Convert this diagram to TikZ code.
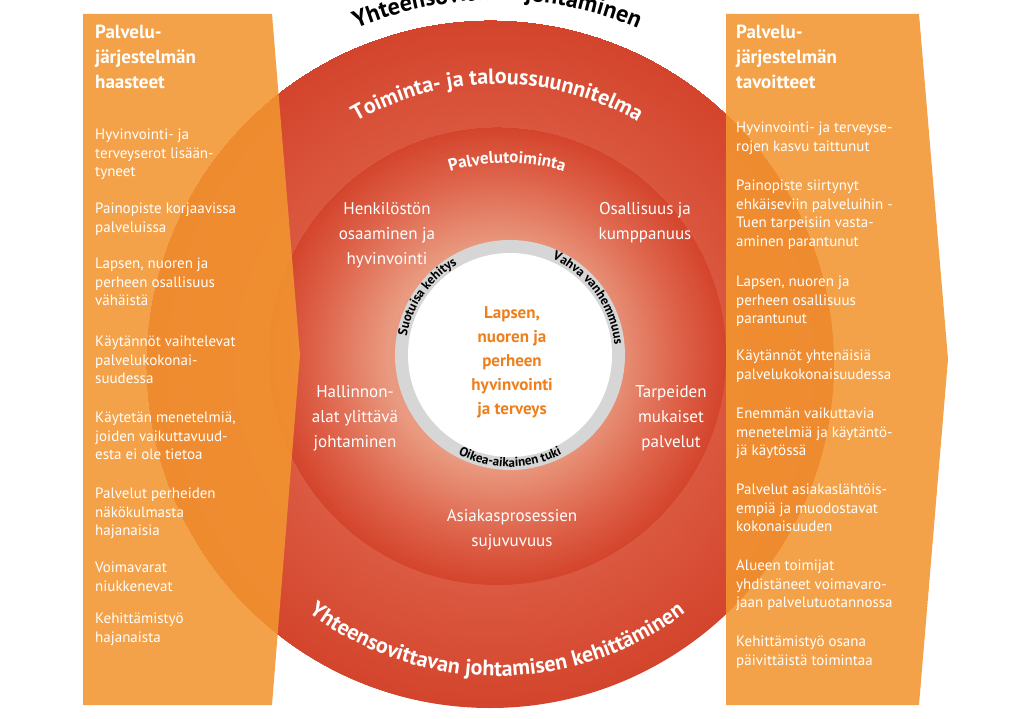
\documentclass[tikz,border=0pt]{standalone}
\usepackage{fontspec}
\setmainfont{PT Sans}
\usetikzlibrary{decorations.text}
\definecolor{panelorange}{HTML}{F39530}
\definecolor{reddark}{HTML}{D4442C}
\definecolor{redmid}{HTML}{DD6148}
\definecolor{redlight}{HTML}{E99A80}
\definecolor{ringgrey}{HTML}{D6D6D6}
\definecolor{centreorange}{HTML}{EE7F1A}
\pgfdeclareradialshading{outerred}{\pgfpoint{0bp}{0bp}}{color(0bp)=(redlight); color(13bp)=(redmid); color(25bp)=(reddark)}
\pgfdeclareradialshading{innerred}{\pgfpoint{0bp}{0bp}}{color(0bp)=(redlight); color(12bp)=(redlight); color(20bp)=(redmid); color(25bp)=(reddark)}

\begin{document}
\begin{tikzpicture}[x=1pt, y=1pt,
                    panel/.style = {fill = panelorange, opacity = 0.88},
                    head/.style = {anchor = north west, inner sep = 0pt, align = left, text = white,
                                   font = \fontsize{19}{25}\selectfont\bfseries},
                    item/.style = {anchor = north west, inner sep = 0pt, align = left, text = white,
                                   font = \fontsize{15}{18.5}\selectfont},
                    area/.style = {align = center, inner sep = 0pt, text = white,
                                   font = \fontsize{17}{25}\selectfont},
                    arctext/.style = {decorate, decoration = {text along path, text align = center,
                                   text = {#1}}}]
  \useasboundingbox (0,0) rectangle (1024,718);
  \begin{scope}
  \clip (0,0) rectangle (1024,718);
  % circles
  \shade[shading = outerred] (490,354) circle (344);
  \shade[shading = innerred] (497,362) circle (229);
  \fill[ringgrey] (510,363) circle (115);
  \fill[white] (510,363) circle (102);

  % texts on the arcs
  \path[arctext = {|\fontsize{24}{24}\selectfont\bfseries|Yhteensovittava johtaminen}]
    (497,354) ++(155:364) arc[start angle = 155, end angle = 25, radius = 364];
  \path[arctext = {|\fontsize{22}{22}\selectfont\bfseries\color{white}|Toiminta- ja taloussuunnitelma}]
    (497,354) ++(150:280) arc[start angle = 150, end angle = 30, radius = 280];
  \path[arctext = {|\fontsize{17}{17}\selectfont\bfseries\color{white}|Palvelutoiminta}]
    (507,362) ++(130:193) arc[start angle = 130, end angle = 50, radius = 193];
  \path[arctext = {|\fontsize{22}{22}\selectfont\bfseries\color{white}|Yhteensovittavan johtamisen kehittäminen}]
    (497,354) ++(205:312) arc[start angle = 205, end angle = 335, radius = 312];
  \path[arctext = {|\fontsize{13}{13}\selectfont\bfseries|Suotuisa kehitys}]
    (510,363) ++(192:105) arc[start angle = 192, end angle = 98, radius = 105];
  \path[arctext = {|\fontsize{13}{13}\selectfont\bfseries|Vahva vanhemmuus}]
    (510,363) ++(86:105) arc[start angle = 86, end angle = -14, radius = 105];
  \path[arctext = {|\fontsize{13}{13}\selectfont\bfseries|Oikea-aikainen tuki}]
    (510,363) ++(218:112) arc[start angle = 218, end angle = 322, radius = 112];

  % areas of the service
  \node[area] (staff) at (387,483) {Henkilöstön\\osaaminen ja\\hyvinvointi};
  \node[area] (partner) at (645,495) {Osallisuus ja\\kumppanuus};
  \node[area] (admin) at (355,300) {Hallinnon-\\alat ylittävä\\johtaminen};
  \node[area] (needs) at (671,300) {Tarpeiden\\mukaiset\\palvelut};
  \node[area] (process) at (512,188) {Asiakasprosessien\\sujuvuvuus};
  \node[align = center, inner sep = 0pt, text = centreorange,
        font = \fontsize{17}{24}\selectfont\bfseries] (centre) at (512,356)
        {Lapsen,\\nuoren ja\\perheen\\hyvinvointi\\ja terveys};

  % panels
  \fill[panel] (83,704) -- (272,704) -- (300,363) -- (272,13) -- (83,13) -- cycle;
  \fill[panel] (726,704) -- (919,704) -- (948,359) -- (919,13) -- (726,13) -- cycle;
  \end{scope}

  \node[head] (lefthead) at (95,693) {Palvelu-\\järjestelmän\\haasteet};
  \node[item] (l1) at (95,589) {Hyvinvointi- ja\\terveyserot lisään-\\tyneet};
  \node[item] (l2) at (95,515) {Painopiste korjaavissa\\palveluissa};
  \node[item] (l3) at (95,460) {Lapsen, nuoren ja\\perheen osallisuus\\vähäistä};
  \node[item] (l4) at (95,382) {Käytännöt vaihtelevat\\palvelukokonai-\\suudessa};
  \node[item] (l5) at (95,306) {Käytetän menetelmiä,\\joiden vaikuttavuud-\\esta ei ole tietoa};
  \node[item] (l6) at (95,230) {Palvelut perheiden\\näkökulmasta\\hajanaisia};
  \node[item] (l7) at (95,156) {Voimavarat\\niukkenevat};
  \node[item] (l8) at (95,105) {Kehittämistyö\\hajanaista};

  \node[head] (righthead) at (736,693) {Palvelu-\\järjestelmän\\tavoitteet};
  \node[item] (r1) at (736,596) {Hyvinvointi- ja terveyse-\\rojen kasvu taittunut};
  \node[item] (r2) at (736,538) {Painopiste siirtynyt\\ehkäiseviin palveluihin -\\Tuen tarpeisiin vasta-\\aminen parantunut};
  \node[item] (r3) at (736,442) {Lapsen, nuoren ja\\perheen osallisuus\\parantunut};
  \node[item] (r4) at (736,368) {Käytännöt yhtenäisiä\\palvelukokonaisuudessa};
  \node[item] (r5) at (736,310) {Enemmän vaikuttavia\\menetelmiä ja käytäntö-\\jä käytössä};
  \node[item] (r6) at (736,234) {Palvelut asiakaslähtöis-\\empiä ja muodostavat\\kokonaisuuden};
  \node[item] (r7) at (736,158) {Alueen toimijat\\yhdistäneet voimavaro-\\jaan palvelutuotannossa};
  \node[item] (r8) at (736,82) {Kehittämistyö osana\\päivittäistä toimintaa};
\end{tikzpicture}
\end{document}
